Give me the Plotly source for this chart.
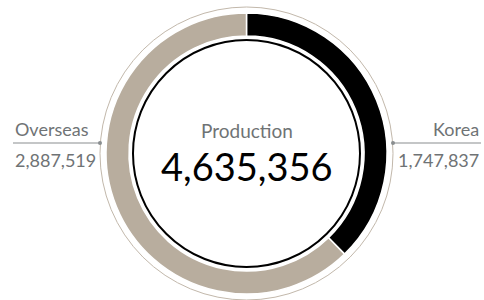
import plotly.graph_objects as go

labels = ["Korea", "Overseas"]
values = [1747837, 2887519]
colors = ["#000000", "#b8ad9e"]
center_title = "Production"
total = sum(values)

W, H = 484, 300
cx, cy = 246.5, 153.5
r_out, r_in = 140.5, 117.5

fig = go.Figure()
fig.add_trace(go.Pie(
    labels=labels, values=values, sort=False, direction="clockwise", rotation=0,
    hole=r_in / r_out, textinfo="none", hoverinfo="label+value",
    marker=dict(colors=colors, line=dict(color="white", width=1.5)),
    domain=dict(x=[(cx - r_out) / W, (cx + r_out) / W],
                y=[(H - cy - r_out) / H, (H - cy + r_out) / H]),
    showlegend=False,
))

font = "Lato"
gray = "#6f7375"
shapes = [
    dict(type="circle", xref="x", yref="y", x0=cx - 146.5, x1=cx + 146.5, y0=cy - 146.5, y1=cy + 146.5,
         line=dict(color="#c2b8ab", width=1)),
    dict(type="circle", xref="x", yref="y", x0=cx - 113.5, x1=cx + 113.5, y0=cy - 113.5, y1=cy + 113.5,
         line=dict(color="#000000", width=2)),
    dict(type="line", xref="x", yref="y", x0=13, x1=100, y0=143, y1=143, line=dict(color="#8a8e90", width=1.2)),
    dict(type="line", xref="x", yref="y", x0=393, x1=481, y0=143, y1=143, line=dict(color="#8a8e90", width=1.2)),
    dict(type="circle", xref="x", yref="y", x0=98, x1=102, y0=141, y1=145,
         fillcolor="#8a8e90", line=dict(width=0)),
    dict(type="circle", xref="x", yref="y", x0=391, x1=395, y0=141, y1=145,
         fillcolor="#8a8e90", line=dict(width=0)),
]

annotations = [
    dict(x=13, y=129, text=labels[1], xanchor="left", yanchor="middle", showarrow=False,
         font=dict(family=font, size=18, color=gray)),
    dict(x=13, y=160, text=f"{values[1]:,}", xanchor="left", yanchor="middle", showarrow=False,
         font=dict(family=font, size=18, color=gray)),
    dict(x=481, y=129, text=labels[0], xanchor="right", yanchor="middle", showarrow=False,
         font=dict(family=font, size=18, color=gray)),
    dict(x=481, y=160, text=f"{values[0]:,}", xanchor="right", yanchor="middle", showarrow=False,
         font=dict(family=font, size=18, color=gray)),
    dict(x=cx, y=130, text=center_title, xanchor="center", yanchor="middle", showarrow=False,
         font=dict(family=font, size=19, color=gray)),
    dict(x=cx, y=166, text=f"{total:,}", xanchor="center", yanchor="middle", showarrow=False,
         font=dict(family=font, size=38, color="#000000")),
]

fig.update_layout(
    width=W, height=H, margin=dict(l=0, r=0, t=0, b=0),
    paper_bgcolor="white", plot_bgcolor="white",
    xaxis=dict(range=[0, W], visible=False, fixedrange=True),
    yaxis=dict(range=[H, 0], visible=False, fixedrange=True),
    shapes=shapes, annotations=annotations,
)
fig.write_html("out.html", config={"displayModeBar": False},
               post_script="document.body.style.margin='0';document.body.style.overflow='hidden';")
